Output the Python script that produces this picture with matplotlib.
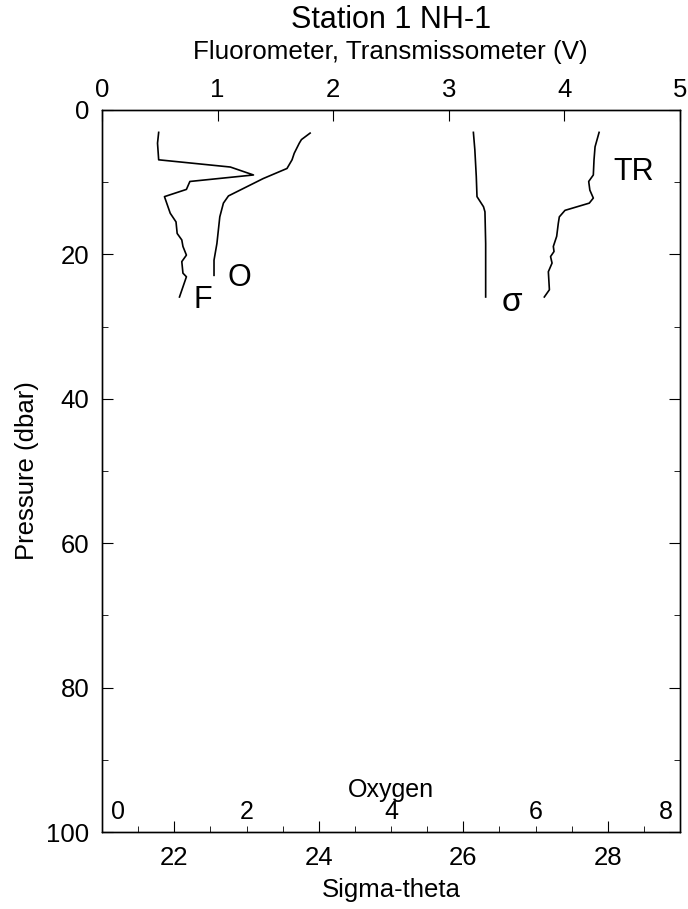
import matplotlib.pyplot as plt

plt.rcParams['font.family'] = ['Liberation Sans', 'DejaVu Sans']

# Fluorometer (V) vs pressure (dbar)
fl_p = [3.1, 4.6, 6.9, 7.9, 9.0, 9.9, 11.0, 12.0, 14.3, 15.5, 17.1, 18.0, 18.9, 20.1, 21.0, 22.6, 23.1, 24.5, 25.9]
fl_v = [0.49, 0.48, 0.49, 1.11, 1.31, 0.76, 0.73, 0.54, 0.59, 0.64, 0.65, 0.69, 0.70, 0.73, 0.69, 0.70, 0.73, 0.70, 0.67]

# Transmissometer (V)
tr_p = [3.1, 5.1, 6.9, 9.0, 9.9, 11.1, 12.2, 12.9, 13.9, 14.8, 15.7, 17.5, 18.9, 19.6, 20.3, 21.2, 22.4, 24.9, 25.9]
tr_v = [4.30, 4.265, 4.256, 4.25, 4.21, 4.22, 4.25, 4.215, 4.005, 3.956, 3.947, 3.933, 3.904, 3.91, 3.88, 3.893, 3.861, 3.87, 3.826]

# Oxygen
ox_p = [3.2, 4.1, 4.6, 6.0, 6.9, 8.1, 9.5, 11.9, 12.9, 14.8, 18.5, 20.8, 22.9]
ox_v = [2.88, 2.76, 2.73, 2.66, 2.63, 2.56, 2.23, 1.75, 1.68, 1.63, 1.59, 1.55, 1.55]

# Sigma-theta
sg_p = [3.1, 5.5, 9.2, 12.0, 13.4, 14.1, 18.5, 25.9]
sg_v = [26.14, 26.16, 26.18, 26.19, 26.28, 26.30, 26.31, 26.31]

fig = plt.figure(figsize=(6.88, 9.09), dpi=100)
ax = fig.add_axes([0.1483, 0.0847, 0.8401, 0.7943])

# sigma-theta on bottom axis
ax.plot(sg_v, sg_p, color='black', lw=1.2)
ax.set_xlim(21, 29)
ax.set_ylim(100, 0)
ax.set_xticks([22, 24, 26, 28])
ax.set_xticks([x / 2 for x in range(42, 59)], minor=True)
ax.set_yticks([0, 20, 40, 60, 80, 100])
ax.set_yticks(range(10, 100, 20), minor=True)
ax.tick_params(axis='x', which='both', direction='in', top=False, labelsize=18.5, pad=10)
ax.tick_params(axis='x', which='major', length=8)
ax.tick_params(axis='x', which='minor', length=4)
ax.tick_params(axis='y', which='both', direction='in', left=True, right=True, labelsize=18.5, pad=9)
ax.tick_params(axis='y', which='major', length=8)
ax.tick_params(axis='y', which='minor', length=4)
ax.set_xlabel('Sigma-theta', fontsize=18.5, va='center')
ax.xaxis.set_label_coords(0.5, -0.08)
ax.set_ylabel('Pressure (dbar)', fontsize=18.5, va='center')
ax.yaxis.set_label_coords(-0.13, 0.5)

# voltage axis on top
axv = ax.twiny()
axv.plot(fl_v, fl_p, color='black', lw=1.2)
axv.plot(tr_v, tr_p, color='black', lw=1.2)
axv.set_xlim(0, 5)
axv.set_xticks([0, 1, 2, 3, 4, 5])
axv.tick_params(axis='x', direction='in', length=8, labelsize=18.5, pad=6)

# oxygen axis, labelled inside the frame
axo = ax.twiny()
axo.plot(ox_v, ox_p, color='black', lw=1.2)
axo.set_xlim(0, 8)
axo.set_xticks([])
for o in [0, 2, 4, 6, 8]:
    ha = 'center'
    xo = o
    if o == 0:
        ha, xo = 'left', 0.12
    if o == 8:
        ha, xo = 'right', 7.9
    axo.text(xo, 97.2, str(o), ha=ha, va='center', fontsize=18)
axo.text(4, 94.2, 'Oxygen', ha='center', va='center', fontsize=18)

for a in (ax, axv, axo):
    for s in a.spines.values():
        s.set_linewidth(0.9)

# curve labels
axv.text(0.87, 26.3, 'F', ha='center', va='center', fontsize=22)
axv.text(1.19, 23.3, 'O', ha='center', va='center', fontsize=22)
axv.text(3.55, 26.6, 'σ', ha='center', va='center', fontsize=24)
axv.text(4.6, 8.6, 'TR', ha='center', va='center', fontsize=22)

fig.text(0.568, 0.978, 'Station 1 NH-1', ha='center', va='center', fontsize=22)
fig.text(0.568, 0.943, 'Fluorometer, Transmissometer (V)', ha='center', va='center', fontsize=18.7)

fig.savefig('out.png', dpi=100)
